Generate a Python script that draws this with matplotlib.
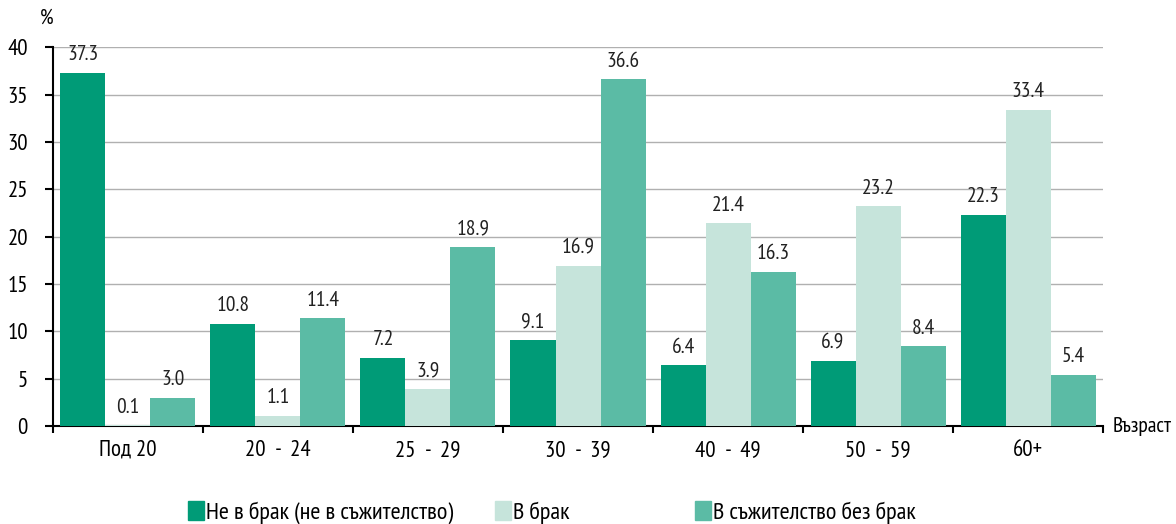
import numpy as np
import matplotlib.pyplot as plt
from matplotlib.patches import Patch
from matplotlib.ticker import FixedLocator

# data
groups = ["Под 20", "20  -  24", "25  -  29", "30  -  39", "40  -  49", "50  -  59", "60+"]
ne_v_brak = [37.3, 10.8, 7.2, 9.1, 6.4, 6.9, 22.3]
v_brak = [0.1, 1.1, 3.9, 16.9, 21.4, 23.2, 33.4]
sazhitelstvo = [3.0, 11.4, 18.9, 36.6, 16.3, 8.4, 5.4]
series_names = ["Не в брак (не в съжителство)", "В брак", "В съжителство без брак"]
colors = ["#009b77", "#c6e4db", "#5bbba5"]

plt.rcParams['font.family'] = ['PT Sans Narrow', 'DejaVu Sans']

fig = plt.figure(figsize=(11.76, 5.24), dpi=100)
ax = fig.add_axes([0.045, 0.187, 0.893, 0.723])

x = np.arange(len(groups))
w = 0.3
all_series = [ne_v_brak, v_brak, sazhitelstvo]
for i, vals in enumerate(all_series):
    bars = ax.bar(x + (i - 1) * w, vals, width=w, color=colors[i], zorder=3)
    for b, v in zip(bars, vals):
        ax.text(b.get_x() + b.get_width() / 2, v + 0.9, f"{v:.1f}",
                ha='center', va='bottom', fontsize=15.5, color='#222222')

ax.set_xlim(-0.5, 6.5)
ax.set_ylim(0, 40)
ax.set_yticks(np.arange(0, 41, 5))
ax.yaxis.grid(True, color='#b0b0b0', linewidth=1, zorder=0)
ax.tick_params(axis='y', length=6, width=1.5, pad=12, labelsize=16.5)

ax.set_xticks(x)
ax.set_xticklabels(groups)
ax.tick_params(axis='x', which='major', length=0, pad=10, labelsize=16.5)
ax.xaxis.set_minor_locator(FixedLocator(np.arange(-0.5, 7, 1)))
ax.tick_params(axis='x', which='minor', length=5, width=1.5)

for s in ['top', 'right']:
    ax.spines[s].set_visible(False)
ax.spines['left'].set_linewidth(1.5)
ax.spines['bottom'].set_linewidth(1.5)

fig.text(0.034, 0.965, "%", fontsize=15.5, ha='left', va='center')
fig.text(0.946, 0.187, "Възраст", fontsize=15.5, ha='left', va='center')

# legend entries placed individually
leg_x = [0.160, 0.421, 0.591]
for name, c, lx in zip(series_names, colors, leg_x):
    fig.legend(handles=[Patch(color=c)], labels=[name], loc='center left',
               bbox_to_anchor=(lx, 0.022), frameon=False, fontsize=17.5,
               handlelength=0.65, handleheight=0.8, handletextpad=0.1,
               borderaxespad=0, borderpad=0)

plt.savefig("out.png", dpi=100)
